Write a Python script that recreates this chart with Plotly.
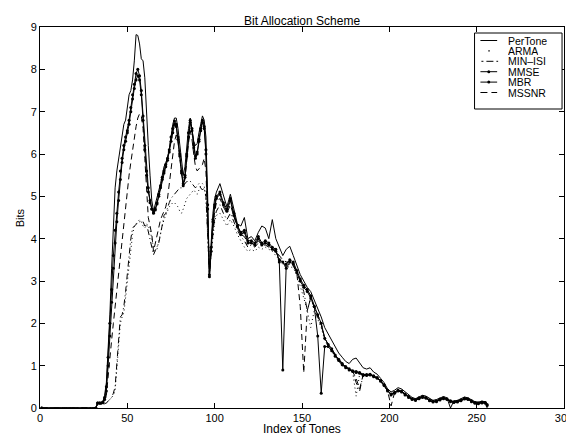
import plotly.graph_objects as go

# ---------------- data ----------------
# tone index grid: 1 and 32 (flat zero region), every tone 33..101, odd tones 103..255, and 256
tones = [1, 32] + list(range(33, 102)) + list(range(103, 256, 2)) + [256]

head = [0.0, 0.0]

pertone_a = [0.12, 0.12, 0.12, 0.15, 0.3, 0.6, 1.3, 2.2, 3.3, 4.4,
             5.2, 5.6, 5.9, 6.1, 6.4, 6.7, 6.8, 7.1, 7.4, 7.5,
             7.75, 8.2, 8.82, 8.8, 8.6, 8.25, 8.2, 7.8, 6.9, 6.2,
             5.5, 4.9, 4.65, 4.8, 4.95, 5.1, 5.3, 5.5, 5.7, 5.8,
             5.9, 6.1, 6.4, 6.7, 6.85, 6.85, 6.6, 6.2, 5.8, 5.5,
             5.7, 6.2, 6.6, 6.85, 6.6, 6.3, 6.2, 6.25, 6.5, 6.75,
             6.9, 6.8, 6.4, 5.0, 3.1, 3.9, 4.6, 4.95, 5.1]
pertone_b = [5.3, 5.0, 4.75, 5.05, 4.7, 4.35, 4.3, 4.5, 4.0, 4.05,
             3.95, 4.15, 4.3, 4.25, 4.0, 4.45, 4.0, 3.8, 3.6, 3.75,
             3.82, 3.6, 3.35, 3.15, 3.0, 2.85, 2.75, 2.55, 2.35, 2.15,
             1.9, 1.75, 1.6, 1.45, 1.3, 1.2, 1.1, 1.05, 1.15, 1.18,
             1.05, 0.95, 0.92, 0.95, 0.85, 0.8, 0.7, 0.6, 0.45, 0.38,
             0.42, 0.48, 0.45, 0.38, 0.3, 0.25, 0.22, 0.26, 0.3, 0.28,
             0.22, 0.18, 0.2, 0.24, 0.27, 0.24, 0.0, 0.17, 0.18, 0.22,
             0.26, 0.24, 0.19, 0.15, 0.14, 0.16, 0.15,
             0.0]

arma_a = [0.1, 0.1, 0.1, 0.1, 0.1, 0.12, 0.15, 0.2, 0.25, 0.3,
          0.4, 0.9, 1.5, 2.0, 2.15, 2.25, 2.6, 3.0, 3.4, 3.8,
          4.1, 4.3, 4.35, 4.4, 4.45, 4.4, 4.3, 4.25, 4.35, 4.3,
          4.2, 4.0, 3.8, 3.7, 3.75, 3.95, 4.15, 4.3, 4.45, 4.55,
          4.65, 4.75, 4.8, 4.85, 4.85, 4.8, 4.75, 4.65, 4.6, 4.7,
          4.85, 4.95, 5.0, 5.05, 5.1, 5.15, 5.1, 5.05, 5.15, 5.25,
          5.3, 5.25, 4.95, 4.0, 3.15, 3.65, 4.1, 4.4, 4.55]
arma_b = [4.6, 4.45, 4.3, 4.45, 4.3, 4.1, 3.95, 3.8, 3.7, 3.75,
          3.7, 3.8, 3.75, 3.8, 3.75, 3.7, 3.6, 3.5, 3.4, 3.3,
          3.35, 3.3, 3.15, 2.9, 2.6, 2.3, 1.9, 2.3, 2.1, 1.9,
          1.6, 1.45, 1.35, 1.2, 1.1, 1.0, 0.95, 0.9, 0.85, 0.28,
          0.8, 0.78, 0.76, 0.77, 0.74, 0.7, 0.63, 0.52, 0.4, 0.32,
          0.36, 0.4, 0.38, 0.32, 0.26, 0.21, 0.19, 0.23, 0.26, 0.24,
          0.18, 0.15, 0.16, 0.2, 0.23, 0.21, 0.16, 0.14, 0.15, 0.18,
          0.22, 0.21, 0.16, 0.12, 0.11, 0.13, 0.12,
          0.1]

minisi_a = [0.1, 0.1, 0.1, 0.1, 0.1, 0.12, 0.15, 0.2, 0.25, 0.35,
            0.5, 1.1, 1.8, 2.15, 2.2, 2.4, 2.75, 3.2, 3.65, 4.0,
            4.25, 4.3, 4.33, 4.38, 4.4, 4.42, 4.4, 4.3, 4.35, 4.15,
            3.95, 3.75, 3.62, 3.72, 3.8, 3.9, 4.1, 4.35, 4.55, 4.6,
            4.75, 4.85, 4.95, 5.0, 5.05, 5.1, 5.15, 5.2, 5.2, 5.25,
            5.3, 5.35, 5.35, 5.36, 5.3, 5.25, 5.2, 5.25, 5.3, 5.2,
            5.15, 5.2, 5.0, 4.1, 3.15, 3.7, 4.2, 4.5, 4.65]
minisi_b = [4.8, 4.6, 4.45, 4.6, 4.4, 4.2, 4.05, 3.95, 3.8, 3.85,
            3.8, 3.9, 3.85, 3.85, 3.8, 3.75, 3.7, 3.55, 3.45, 3.35,
            3.4, 3.35, 3.2, 3.0, 2.75, 2.3, 2.6, 2.35, 2.15, 1.95,
            1.65, 1.5, 1.4, 1.25, 1.15, 1.05, 0.97, 0.92, 0.87, 0.6,
            0.4, 0.78, 0.78, 0.79, 0.75, 0.71, 0.64, 0.53, 0.41, 0.33,
            0.37, 0.41, 0.39, 0.33, 0.27, 0.22, 0.2, 0.24, 0.27, 0.25,
            0.19, 0.16, 0.17, 0.21, 0.24, 0.22, 0.17, 0.15, 0.16, 0.19,
            0.23, 0.22, 0.17, 0.13, 0.12, 0.14, 0.13,
            0.1]

mmse_a = [0.12, 0.12, 0.12, 0.14, 0.25, 0.5, 1.2, 2.0, 2.8, 3.6,
          4.2, 4.6, 5.1, 5.6, 5.9, 6.2, 6.4, 6.55, 6.8, 7.1,
          7.4, 7.65, 7.9, 8.0, 7.85, 7.5, 6.9, 6.2, 5.6, 5.2,
          4.9, 4.7, 4.62, 4.7, 4.85, 5.05, 5.25, 5.45, 5.6, 5.75,
          5.9, 6.1, 6.4, 6.6, 6.78, 6.7, 6.4, 6.0, 5.6, 5.3,
          5.5, 6.0, 6.5, 6.8, 6.6, 6.2, 5.95, 6.05, 6.35, 6.6,
          6.8, 6.65, 6.1, 4.8, 3.15, 3.8, 4.45, 4.8, 5.0]
mmse_b = [5.1, 4.85, 4.7, 4.95, 4.6, 4.3, 4.15, 4.2, 3.95, 3.95,
          3.9, 4.05, 3.9, 3.95, 3.9, 3.8, 3.75, 3.45, 0.9, 3.4,
          3.5, 3.45, 3.25, 3.05, 2.9, 2.8, 2.65, 2.4, 2.2, 2.0,
          1.65, 1.5, 1.4, 1.25, 1.15, 1.05, 0.98, 0.93, 0.88, 0.86,
          0.84, 0.79, 0.79, 0.8, 0.76, 0.72, 0.65, 0.55, 0.42, 0.33,
          0.37, 0.42, 0.4, 0.33, 0.27, 0.22, 0.2, 0.24, 0.27, 0.25,
          0.19, 0.16, 0.17, 0.21, 0.24, 0.22, 0.17, 0.15, 0.16, 0.19,
          0.23, 0.22, 0.17, 0.13, 0.12, 0.14, 0.13,
          0.08]

mbr_a = [0.12, 0.12, 0.12, 0.13, 0.2, 0.4, 1.0, 1.7, 2.5, 3.3,
         3.9, 4.4, 4.9, 5.4, 5.8, 6.1, 6.3, 6.5, 6.7, 7.0,
         7.3, 7.55, 7.75, 7.85, 7.75, 7.4, 6.8, 6.1, 5.5, 5.1,
         4.85, 4.7, 4.6, 4.68, 4.82, 5.0, 5.2, 5.4, 5.55, 5.7,
         5.85, 6.05, 6.3, 6.5, 6.7, 6.65, 6.35, 5.95, 5.55, 5.25,
         5.45, 5.95, 6.4, 6.75, 6.55, 6.15, 5.9, 6.0, 6.3, 6.55,
         6.75, 6.6, 6.0, 4.7, 3.1, 3.7, 4.4, 4.75, 4.95]
mbr_b = [5.05, 4.8, 4.65, 4.9, 4.55, 4.3, 4.1, 4.15, 3.9, 3.9,
         3.85, 4.0, 3.85, 3.9, 3.85, 3.75, 3.7, 3.5, 3.45, 3.3,
         3.45, 3.4, 3.2, 3.0, 2.85, 2.75, 2.6, 2.4, 1.7, 0.35,
         1.45, 1.45, 1.35, 1.22, 1.12, 1.02, 0.95, 0.9, 0.86, 0.84,
         0.82, 0.77, 0.77, 0.78, 0.74, 0.7, 0.63, 0.53, 0.4, 0.31,
         0.35, 0.4, 0.38, 0.31, 0.25, 0.2, 0.18, 0.22, 0.25, 0.23,
         0.17, 0.14, 0.15, 0.19, 0.22, 0.2, 0.15, 0.13, 0.14, 0.17,
         0.21, 0.2, 0.15, 0.11, 0.1, 0.12, 0.11,
         0.06]

mssnr_a = [0.1, 0.1, 0.1, 0.12, 0.15, 0.3, 0.8, 1.2, 1.6, 2.0,
           2.4, 2.8, 3.2, 3.6, 4.0, 4.4, 4.8, 5.2, 5.5, 5.8,
           6.1, 6.4, 6.65, 6.85, 6.95, 6.9, 6.6, 5.9, 5.1, 4.5,
           4.3, 4.1, 3.7, 3.9, 4.1, 4.3, 4.45, 4.55, 4.65, 4.75,
           4.95, 5.3, 5.7, 6.05, 6.3, 6.45, 6.3, 5.9, 5.5, 5.25,
           5.4, 5.85, 6.25, 6.55, 6.35, 6.0, 5.7, 5.6, 5.65, 5.7,
           5.75, 5.9, 5.6, 4.4, 3.15, 3.7, 4.3, 4.65, 4.85]
mssnr_b = [4.95, 4.75, 4.6, 4.8, 4.5, 4.25, 4.1, 4.05, 3.9, 3.9,
           3.85, 3.95, 3.85, 3.9, 3.85, 3.75, 3.7, 3.6, 3.5, 3.45,
           3.45, 3.4, 3.2, 2.4, 0.83, 2.3, 2.6, 2.4, 2.2, 2.0,
           1.65, 1.5, 1.4, 1.25, 1.12, 1.02, 0.96, 0.9, 0.86, 0.7,
           0.45, 0.78, 0.77, 0.79, 0.75, 0.71, 0.64, 0.54, 0.4, 0.05,
           0.36, 0.41, 0.39, 0.32, 0.26, 0.21, 0.19, 0.23, 0.26, 0.24,
           0.18, 0.15, 0.16, 0.2, 0.23, 0.21, 0.16, 0.14, 0.15, 0.18,
           0.22, 0.21, 0.16, 0.12, 0.11, 0.13, 0.12,
           0.1]

series_names = ["PerTone", "ARMA", "MIN\u2013ISI", "MMSE", "MBR", "MSSNR"]
series_values = [head + pertone_a + pertone_b,
                 head + arma_a + arma_b,
                 head + minisi_a + minisi_b,
                 head + mmse_a + mmse_b,
                 head + mbr_a + mbr_b,
                 head + mssnr_a + mssnr_b]

x_ticks = [0, 50, 100, 150, 200, 250, 300]
y_ticks = [0, 1, 2, 3, 4, 5, 6, 7, 8, 9]

for v in series_values:
    assert len(v) == len(tones), (len(v), len(tones))

# ---------------- styles ----------------
styles = {
    "PerTone": dict(dash="solid", marker=False),
    "ARMA": dict(dash="1px,3px", marker=False),
    "MIN\u2013ISI": dict(dash="6px,3px,1px,3px", marker=False),
    "MMSE": dict(dash="solid", marker=True),
    "MBR": dict(dash="solid", marker=True),
    "MSSNR": dict(dash="6px,4px", marker=False),
}

FONT = "Liberation Sans, Arial, Helvetica, sans-serif"
W, H = 574, 434
L, R, T, B = 32, 9, 19, 34
PW, PH = W - L - R, H - T - B

fig = go.Figure()
for name, vals in zip(series_names, series_values):
    st = styles[name]
    fig.add_trace(go.Scatter(
        x=tones, y=vals, name=name,
        mode="lines+markers" if st["marker"] else "lines",
        line=dict(color="black", width=1, dash=st["dash"]),
        marker=dict(size=3, color="black", symbol="circle") if st["marker"] else None,
        showlegend=False,
    ))

fig.update_layout(
    width=W, height=H,
    margin=dict(l=L, r=R, t=T, b=B, pad=0),
    paper_bgcolor="white", plot_bgcolor="white",
    font=dict(family=FONT, size=11, color="black"),
    showlegend=False,
)
axis_common = dict(showgrid=False, zeroline=False, showline=True, linecolor="black",
                   linewidth=1, mirror="ticks", ticks="inside", ticklen=5,
                   tickcolor="black", tickwidth=1, tickfont=dict(size=11, family=FONT))
fig.update_xaxes(range=[0, 300], tickvals=x_ticks, ticklabeloverflow="allow", **axis_common)
fig.update_yaxes(range=[0, 9], tickvals=y_ticks, ticklabeloverflow="allow", **axis_common)


def px(xp):
    return (xp - L) / PW


def py(yp):
    return (T + PH - yp) / PH


annotations = [
    dict(text="Bit Allocation Scheme", x=0.5, y=py(12.7), xref="paper", yref="paper",
         xanchor="center", yanchor="middle", showarrow=False, borderpad=0,
         font=dict(size=12, family=FONT)),
    dict(text="Index of Tones", x=0.5, y=py(421), xref="paper", yref="paper",
         xanchor="center", yanchor="middle", showarrow=False, borderpad=0,
         font=dict(size=12, family=FONT)),
    dict(text="Bits", x=px(12), y=py(210), xref="paper", yref="paper", textangle=-90,
         xanchor="center", yanchor="middle", showarrow=False, borderpad=0,
         font=dict(size=11, family=FONT)),
]

# ---------------- manual (MATLAB-style) legend ----------------
shapes = [dict(type="rect", xref="paper", yref="paper", x0=px(474), x1=px(563),
               y0=py(101), y1=py(25), line=dict(color="black", width=1),
               fillcolor="white", layer="above")]
row0, drow = 32.5, 10.4
s0, s1, tx = 480, 497, 507
for i, name in enumerate(series_names):
    yy = py(row0 + i * drow)
    st = styles[name]
    if name == "ARMA":
        shapes.append(dict(type="line", xref="paper", yref="paper", x0=px(488), x1=px(489.5),
                           y0=yy, y1=yy, line=dict(color="black", width=1.2), layer="above"))
    elif name == "MIN\u2013ISI":
        shapes.append(dict(type="line", xref="paper", yref="paper", x0=px(481), x1=px(498),
                           y0=yy, y1=yy, line=dict(color="black", width=1, dash="2px,3px,7px,3px"),
                           layer="above"))
    elif name == "MSSNR":
        shapes.append(dict(type="line", xref="paper", yref="paper", x0=px(s0), x1=px(s1),
                           y0=yy, y1=yy, line=dict(color="black", width=1, dash="7px,4px"),
                           layer="above"))
    else:
        shapes.append(dict(type="line", xref="paper", yref="paper", x0=px(s0), x1=px(s1),
                           y0=yy, y1=yy, line=dict(color="black", width=1), layer="above"))
    if st["marker"]:
        cx = (s0 + s1) / 2
        cy = row0 + i * drow
        shapes.append(dict(type="circle", xref="paper", yref="paper",
                           x0=px(cx - 1.5), x1=px(cx + 1.5), y0=py(cy + 1.5), y1=py(cy - 1.5),
                           fillcolor="black", line=dict(color="black", width=0), layer="above"))
    annotations.append(dict(text=name, x=px(tx), y=yy, xref="paper", yref="paper",
                            xanchor="left", yanchor="middle", showarrow=False,
                            borderpad=0, height=10, valign="middle",
                            font=dict(size=10.5, family=FONT)))

fig.update_layout(shapes=shapes, annotations=annotations)
fig.write_html("out.html")
